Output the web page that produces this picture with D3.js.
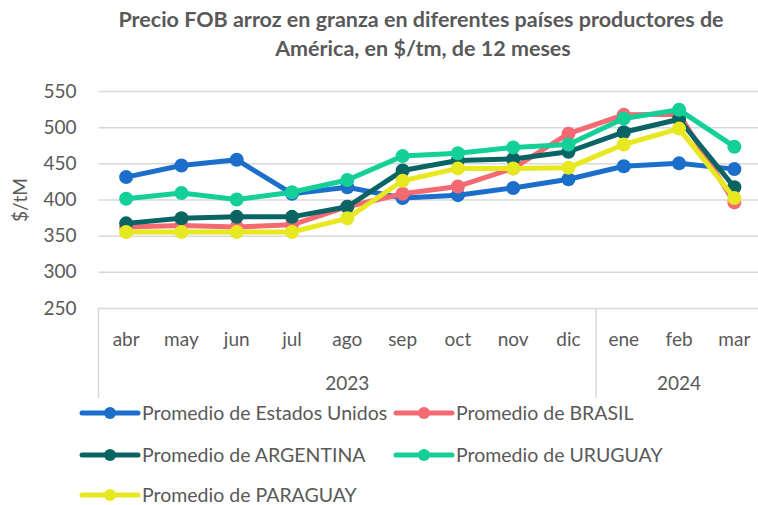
<!DOCTYPE html>
<html>
<head>
<meta charset="utf-8">
<script src="https://cdn.jsdelivr.net/npm/d3@7"></script>
<style>
  body { margin: 0; background: #fff; }
  svg { display: block; font-family: Lato, "Open Sans", sans-serif; }
</style>
</head>
<body>
<svg></svg>
<script>
let months = ['abr', 'may', 'jun', 'jul', 'ago', 'sep', 'oct', 'nov', 'dic', 'ene', 'feb', 'mar']
let years = [{label: '2023', from: 0, to: 9}, {label: '2024', from: 9, to: 12}]
let yTicks = [250, 300, 350, 400, 450, 500, 550]

let estadosUnidos = [431, 447, 455, 408, 417, 402, 406, 416, 428, 446, 450, 442]
let brasil        = [362, 364, 362, 365, 390, 408, 418, 443, 491, 517, 518, 396]
let argentina     = [367, 374, 376, 376, 390, 440, 454, 456, 466, 493, 511, 417]
let uruguay       = [401, 409, 400, 410, 427, 460, 464, 472, 476, 512, 524, 473]
let paraguay      = [355, 355, 355, 355, 374, 426, 443, 443, 444, 476, 498, 402]

let series = [
    {name: 'Promedio de Estados Unidos', values: estadosUnidos, color: '#1b6fcb'},
    {name: 'Promedio de BRASIL', values: brasil, color: '#f46a72'},
    {name: 'Promedio de ARGENTINA', values: argentina, color: '#0a6464'},
    {name: 'Promedio de URUGUAY', values: uruguay, color: '#14cf98'},
    {name: 'Promedio de PARAGUAY', values: paraguay, color: '#e8e820'}
]

let svgWidth = 758,
    svgHeight = 505

let svg = d3.select('svg')
    .attr('width', svgWidth)
    .attr('height', svgHeight)

let textColor = '#595959'
let gridColor = '#d9d9d9'

// SCALES
let x = d3.scaleBand()
    .domain(d3.range(months.length))
    .range([98.5, 762])

let y = d3.scaleLinear()
    .domain([250, 550])
    .range([308, 91])

// TITLE
svg.append('text')
    .attr('x', 421).attr('y', 27)
    .attr('text-anchor', 'middle')
    .attr('font-weight', 'bold')
    .attr('font-size', 21.5)
    .attr('fill', textColor)
    .text('Precio FOB arroz en granza en diferentes países productores de')

svg.append('text')
    .attr('x', 423).attr('y', 56)
    .attr('text-anchor', 'middle')
    .attr('font-weight', 'bold')
    .attr('font-size', 21.5)
    .attr('fill', textColor)
    .text('América, en $/tm, de 12 meses')

// GRID + Y AXIS
let yAxis = svg.append('g')
    .attr('transform', 'translate(98.5,0)')
    .call(d3.axisLeft(y).tickValues(yTicks).tickSize(-(svgWidth - 98)).tickPadding(22))

yAxis.select('.domain').remove()
yAxis.selectAll('.tick line').attr('stroke', gridColor).attr('stroke-width', 1.5)
yAxis.selectAll('.tick text')
    .attr('fill', textColor)
    .attr('font-size', 19)
    .attr('font-family', 'Lato, "Open Sans", sans-serif')

svg.append('text')
    .attr('transform', 'translate(27,200) rotate(-90)')
    .attr('text-anchor', 'middle')
    .attr('font-size', 19)
    .attr('fill', textColor)
    .text('$/tM')

// X AXIS (multi-level categories)
let xAxis = svg.append('g')
xAxis.selectAll('text.month')
    .data(months)
    .enter()
    .append('text')
    .attr('class', 'month')
    .attr('x', (d, i) => x(i) + x.bandwidth() / 2)
    .attr('y', 346)
    .attr('text-anchor', 'middle')
    .attr('font-size', 19)
    .attr('fill', textColor)
    .text(d => d)

xAxis.selectAll('text.year')
    .data(years)
    .enter()
    .append('text')
    .attr('class', 'year')
    .attr('x', d => (x(d.from) + x(d.to - 1) + x.bandwidth()) / 2)
    .attr('y', 390)
    .attr('text-anchor', 'middle')
    .attr('font-size', 19)
    .attr('fill', textColor)
    .text(d => d.label)

xAxis.selectAll('line.sep')
    .data(years)
    .enter()
    .append('line')
    .attr('x1', d => x(d.from))
    .attr('x2', d => x(d.from))
    .attr('y1', y(250))
    .attr('y2', 398)
    .attr('stroke', gridColor)
    .attr('stroke-width', 1.5)

// LINES
let line = d3.line()
    .x((d, i) => x(i) + x.bandwidth() / 2)
    .y(d => y(d))

let groups = svg.selectAll('g.series')
    .data(series)
    .enter()
    .append('g')
    .attr('class', 'series')

groups.append('path')
    .attr('d', d => line(d.values))
    .attr('fill', 'none')
    .attr('stroke', d => d.color)
    .attr('stroke-width', 5)
    .attr('stroke-linejoin', 'round')

groups.selectAll('circle')
    .data(d => d.values.map(v => ({v: v, color: d.color})))
    .enter()
    .append('circle')
    .attr('cx', (d, i) => x(i) + x.bandwidth() / 2)
    .attr('cy', d => y(d.v))
    .attr('r', 7)
    .attr('fill', d => d.color)

// LEGEND
let legendPos = [[82, 413], [396, 413], [82, 455], [396, 455], [82, 495]]

let legend = svg.selectAll('g.legend')
    .data(series)
    .enter()
    .append('g')
    .attr('class', 'legend')
    .attr('transform', (d, i) => `translate(${legendPos[i][0]}, ${legendPos[i][1]})`)

legend.append('line')
    .attr('x1', 0).attr('x2', 56)
    .attr('stroke', d => d.color)
    .attr('stroke-width', 5)
    .attr('stroke-linecap', 'round')

legend.append('circle')
    .attr('cx', 28)
    .attr('r', 6)
    .attr('fill', d => d.color)

legend.append('text')
    .attr('x', 60)
    .attr('dy', '0.35em')
    .attr('font-size', 19.5)
    .attr('fill', textColor)
    .text(d => d.name)
</script>
</body>
</html>
